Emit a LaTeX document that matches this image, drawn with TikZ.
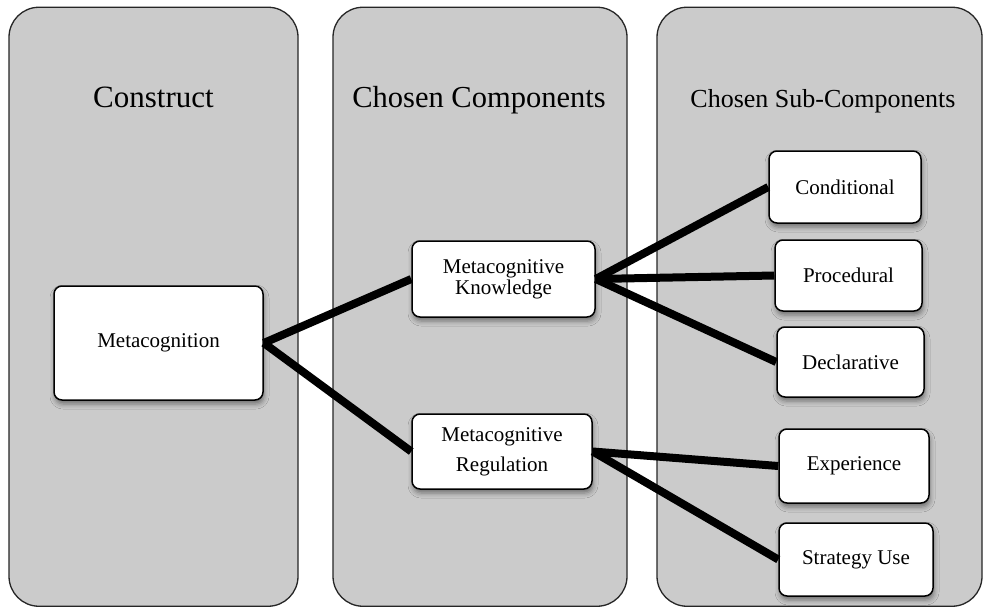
\documentclass[tikz,border=0pt]{standalone}
\usepackage{fontspec}
\setmainfont{Liberation Serif}
\usetikzlibrary{shadows.blur}
\definecolor{panelgray}{HTML}{CBCBCB}
\begin{document}
\begin{tikzpicture}[x=1pt,y=-1pt,
  panel/.style={draw=black!85, line width=1.3pt, fill=panelgray,
    rounded corners=30pt, inner sep=0pt},
  paneltitle/.style={anchor=base, inner sep=0pt},
  item/.style={draw=black, line width=1.5pt, fill=white, rounded corners=8pt,
    align=center, inner sep=0pt, font=\fontsize{21}{21}\selectfont,
    blur shadow={shadow xshift=1pt, shadow yshift=-4pt,
      shadow blur radius=5pt, shadow opacity=45}},
  link/.style={line width=8pt}]

\fill[white] (0,0) rectangle (984,608);
\useasboundingbox (0,0) rectangle (984,608);

% three panels
\node[panel, minimum width=289pt, minimum height=599pt] (pA) at (153.5,306.75) {};
\node[panel, minimum width=294pt, minimum height=599pt] (pB) at (480,306.75) {};
\node[panel, minimum width=325pt, minimum height=599pt] (pC) at (819.5,306.75) {};

\node[paneltitle, font=\fontsize{31}{31}\selectfont] (tA) at (153.5,107.5) {Construct};
\node[paneltitle, font=\fontsize{30.5}{31}\selectfont] (tB) at (479,107.5) {Chosen Components};
\node[paneltitle, font=\fontsize{26}{27}\selectfont] (tC) at (823,107) {Chosen Sub-Components};

% boxes
\node[item, minimum width=209pt, minimum height=114pt] (meta) at (158.5,343) {Metacognition};
\node[item, minimum width=183pt, minimum height=76pt] (know) at (503.5,279) {Metacognitive\\Knowledge};
\node[item, minimum width=180pt, minimum height=75pt, font=\fontsize{21}{30}\selectfont] (reg) at (502,451.5) {Metacognitive\\Regulation};
\node[item, minimum width=152pt, minimum height=72pt] (cond) at (845,187) {Conditional};
\node[item, minimum width=147pt, minimum height=71pt] (proc) at (848.5,275.5) {Procedural};
\node[item, minimum width=147pt, minimum height=70pt] (decl) at (850.5,362) {Declarative};
\node[item, minimum width=150pt, minimum height=74pt] (expe) at (854,466) {Experience};
\node[item, minimum width=154pt, minimum height=73pt] (strat) at (856,559.5) {Strategy Use};

% connectors
\draw[link] (meta.east) -- (know.west);
\draw[link] (meta.east) -- (reg.west);
\draw[link] (know.east) -- (cond.west);
\draw[link] (know.east) -- (proc.west);
\draw[link] (know.east) -- (decl.west);
\draw[link] (reg.east) -- (expe.west);
\draw[link] (reg.east) -- (strat.west);
\end{tikzpicture}
\end{document}
